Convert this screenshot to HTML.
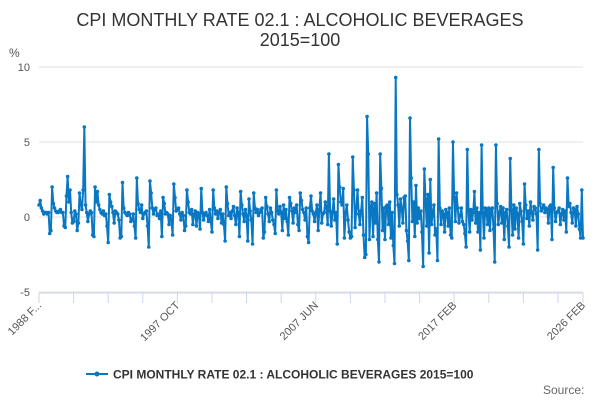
<!DOCTYPE html>
<html><head><meta charset="utf-8"><style>
body{margin:0;width:600px;height:400px;overflow:hidden;background:#fff;font-family:"Liberation Sans",sans-serif}
</style></head><body>
<svg id="c" width="600" height="400" xmlns="http://www.w3.org/2000/svg">
<text x="300" y="26" text-anchor="middle" font-size="18" fill="#333">CPI MONTHLY RATE 02.1 : ALCOHOLIC BEVERAGES</text>
<text x="300" y="46" text-anchor="middle" font-size="18" fill="#333">2015=100</text>
<text x="9" y="57" font-size="12" fill="#555">%</text>
<g id="grid"></g><g id="xa"></g><g id="series"></g>
<g>
<line x1="86" y1="374" x2="108" y2="374" stroke="#0a77c2" stroke-width="2"/>
<circle cx="97" cy="374" r="2.5" fill="#0a77c2"/>
<text x="113" y="378.5" font-size="12" font-weight="bold" fill="#333">CPI MONTHLY RATE 02.1 : ALCOHOLIC BEVERAGES 2015=100</text>
</g>
<text x="543" y="394" font-size="12" fill="#666">Source:</text>
</svg>
<script>
const yTicks=[10,5,0,-5];
const xTickLabels=["1988 F...","1997 OCT","2007 JUN","2017 FEB","2026 FEB"];
const xLabelIdx=[0,116,232,348,456];
const values=[
0.8,1.1,0.6,0.4,0.2,0.3,0.3,0.2,0.3,-1.1,-0.9,
2.0,0.9,0.6,0.4,0.3,0.3,0.4,0.5,0.3,0.3,-0.6,-0.7,
1.4,2.7,1.0,1.8,0.3,-0.4,-0.3,0.4,0.2,-0.9,-0.4,1.6,
0.8,0.5,1.8,6.0,0.8,0.3,-0.3,0.2,0.4,0.3,-1.2,-1.3,
2.0,1.0,1.7,0.8,0.5,0.3,0.2,0.4,0.1,0.2,-0.6,-1.7,
1.5,1.0,0.7,0.3,-0.4,0.4,0.3,0.2,-0.2,-1.4,-1.3,2.3,
0.6,0.3,0.2,0.1,0.3,0.2,-0.3,-0.2,0.2,-0.6,-1.4,2.6,
0.9,0.5,0.3,0.8,-0.1,0.2,0.3,0.4,-0.6,-2.0,2.4,1.6,
0.6,0.2,0.5,0.6,0.1,0.2,-0.1,0.4,-1.3,1.3,0.9,0.2,
0.3,0.2,-0.5,0.1,-0.2,-1.2,2.2,1.3,0.4,0.5,0.6,0.2,
-0.2,0.3,0.1,-0.9,-0.6,1.8,1.0,0.3,0.2,0.5,-0.5,0.2,
0.4,-0.6,0.3,0.2,-0.8,1.9,0.3,-0.2,0.2,0.3,0.1,-0.3,
0.5,-0.3,-1.0,1.8,0.6,0.2,0.4,-0.1,0.3,0.5,-0.4,0.2,
-0.5,-1.6,2.0,0.9,0.1,0.3,-0.1,0.4,0.7,0.1,-0.5,0.6,
0.3,-1.3,1.7,0.8,0.2,-0.3,0.5,0.1,-1.6,1.2,0.4,-0.2,
-1.8,1.6,0.6,0.3,0.5,0.1,0.3,0.5,0.6,-1.4,-1.0,1.3,
0.7,0.2,-0.3,0.6,0.3,-0.2,-0.5,-1.1,1.8,0.4,0.2,0.7,
0.3,-0.9,0.8,-0.1,0.5,-0.3,-1.2,1.3,0.9,0.4,-0.4,0.6,
0.3,0.8,-0.5,-0.9,1.6,1.1,0.5,0.3,-0.2,0.6,-1.3,-1.7,
0.6,1.4,0.4,0.2,-0.3,0.3,0.8,-0.9,0.5,1.6,-0.4,0.2,
0.3,1.0,0.6,-0.5,4.2,0.4,-0.6,0.3,1.2,-0.2,0.3,-1.8,
3.5,2.0,1.0,0.8,1.9,-1.4,0.3,0.8,-0.2,-1.0,-1.4,-1.3,
4.0,1.8,-0.7,0.6,1.8,0.2,-0.5,0.4,1.3,-1.2,-2.7,-2.5,
6.7,4.2,-1.5,0.7,1.0,-1.3,0.9,-0.4,1.6,-1.5,-3.0,4.2,
1.9,-0.9,0.6,-1.5,0.7,0.8,-0.5,1.0,-1.4,0.3,-1.9,-3.1,
9.3,1.5,0.8,-0.6,1.2,0.6,-0.4,1.3,1.4,-0.9,-1.6,-2.9,
6.6,2.6,-0.3,1.0,-1.3,2.1,-0.4,0.6,-0.1,0.4,-1.0,-3.3,
3.2,1.2,-0.6,1.5,-2.4,2.5,-0.5,0.3,0.8,-1.2,-0.8,-2.9,
5.2,0.6,-0.5,0.4,0.2,-1.0,0.5,0.3,-0.6,0.6,-1.2,-1.4,
5.0,1.3,-0.3,1.6,0.6,-0.4,0.1,0.6,-0.3,-0.5,-1.1,-2.0,
4.5,0.4,-1.0,0.5,-0.2,0.3,1.7,-0.4,0.6,-1.0,0.3,-2.2,
4.8,0.3,-1.4,0.6,0.5,-0.5,0.6,-0.9,0.5,0.6,-0.8,-3.0,
4.8,0.9,-0.5,0.3,0.7,-0.4,0.6,-1.5,0.3,0.5,-0.6,-2.0,
3.9,0.5,-1.2,0.8,-0.8,0.6,0.2,-1.4,0.9,0.4,-0.3,-1.8,
2.2,0.8,-0.1,0.4,-0.6,1.0,0.3,-0.2,0.7,0.6,0.2,-2.2,
4.5,0.9,0.4,0.6,0.8,0.3,0.6,0.5,-0.4,0.7,0.8,-1.5,
3.3,0.6,-0.3,0.3,0.4,0.6,-0.5,0.2,0.5,-0.2,0.4,-1.0,
2.6,0.7,0.9,0.3,-0.4,0.6,0.5,-0.6,0.7,0.2,-0.8,-1.4,
1.8,-1.4
];
const NS="http://www.w3.org/2000/svg";
const X0=39,X1=583,Y0=217,PX=15;
const n=values.length;
function xs(i){return X0+i*(X1-X0)/(n-1);}
function ys(v){return Y0-v*PX;}
function mk(t,a,p){const e=document.createElementNS(NS,t);for(const k in a)e.setAttribute(k,a[k]);p.appendChild(e);return e;}
const grid=document.getElementById('grid');
yTicks.forEach(v=>{
 const l=mk('line',{x1:X0,x2:X1,y1:ys(v),y2:ys(v),stroke:'#e0e0e0','stroke-width':1},grid);
 
 
 const t=mk('text',{x:30,y:ys(v)+4,'text-anchor':'end','font-size':11,fill:'#555'},grid);
 t.textContent=v;
 
 
});
const xa=document.getElementById('xa');
const ax=mk('line',{x1:X0,x2:X1,y1:293,y2:293,stroke:'#ccd6eb','stroke-width':1},xa);


for(let i=0;i<n;i+=29){
 const t=mk('line',{x1:xs(i),x2:xs(i),y1:293,y2:303,stroke:'#ccd6eb'},xa);
 
 
}
const te=mk('line',{x1:xs(n-1),x2:xs(n-1),y1:293,y2:303,stroke:'#ccd6eb'},xa);


xTickLabels.forEach((s,k)=>{
 const x=xs(xLabelIdx[k])+3,y=306;
 const t=mk('text',{x:x,y:y,'text-anchor':'end','font-size':11,fill:'#555',transform:`rotate(-45 ${x} ${y})`},xa);
 t.textContent=s;
 
 
});
const g=document.getElementById('series');
const pts=values.map((v,i)=>xs(i).toFixed(2)+','+ys(v).toFixed(2)).join(' ');
const pl=mk('polyline',{points:pts,fill:'none',stroke:'#0a77c2','stroke-width':2,'stroke-linejoin':'round'},g);


values.forEach((v,i)=>{
 const c=mk('circle',{cx:xs(i),cy:ys(v),r:1.8,fill:'#0a77c2'},g);
 
 
});
</script>
</body></html>
